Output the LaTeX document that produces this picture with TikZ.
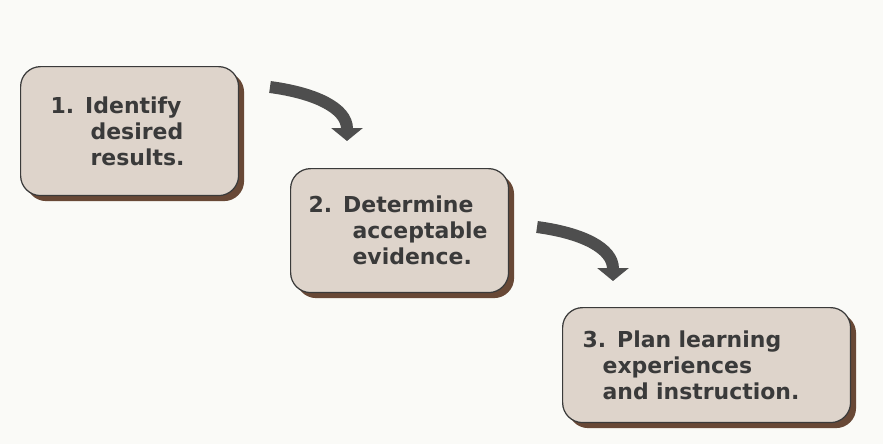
\documentclass[tikz,border=0pt]{standalone}
\usepackage{fontspec}
\setmainfont{DejaVu Sans}
\usepackage{tikz}
\usetikzlibrary{
  arrows.meta,
  positioning,
  shadows
}
\definecolor{paper}{RGB}{250,250,247}
\definecolor{cardfill}{RGB}{222,212,203}
\definecolor{cardshadow}{RGB}{104,72,54}
\definecolor{inkgray}{RGB}{58,58,58}
\definecolor{arrowgray}{RGB}{78,78,78}

\begin{document}
\begin{tikzpicture}[x=0.02cm,y=-0.02cm,
  stepcard/.style={draw=inkgray,line width=0.7pt,fill=cardfill,
    rounded corners=0.4cm,anchor=north west,align=left,
    font=\fontsize{12.5}{14.8}\selectfont\bfseries,text=inkgray,
    drop shadow={shadow xshift=0.11cm,shadow yshift=-0.11cm,
      fill=cardshadow,opacity=1}},
  % the curved arrows are a thick band with a broad flat head
  bandarrow/.style={draw=arrowgray,line width=0.24cm,
    -{Triangle[width=0.62cm,length=0.26cm]}}
]
\useasboundingbox[fill=paper] (0,0) rectangle (883,444);

% ---- the three steps ----
\node[stepcard,minimum width=4.36cm,minimum height=2.58cm,
  text width=3.16cm,inner xsep=0.6cm] (s1) at (20,66)
  {1. Identify\\\hspace*{0.8cm}desired\\\hspace*{0.8cm}results.};
\node[stepcard,minimum width=4.36cm,minimum height=2.48cm,
  text width=3.64cm,inner xsep=0.36cm] (s2) at (290,168)
  {2. Determine\\\hspace*{0.88cm}acceptable\\\hspace*{0.88cm}evidence.};
\node[stepcard,minimum width=5.76cm,minimum height=2.3cm,
  text width=4.96cm,inner xsep=0.4cm] (s3) at (562,307)
  {3. Plan learning\\\hspace*{0.4cm}experiences\\\hspace*{0.4cm}and instruction.};

% ---- arrows between the steps ----
\coordinate (a1s) at (270,87);
\coordinate (a1e) at (347,141);
\coordinate (a2s) at (537,227);
\coordinate (a2e) at (613,281);
\draw[bandarrow] (a1s) .. controls (315,93) and (347,108) .. (a1e);
\draw[bandarrow] (a2s) .. controls (582,233) and (613,248) .. (a2e);
\end{tikzpicture}
\end{document}
